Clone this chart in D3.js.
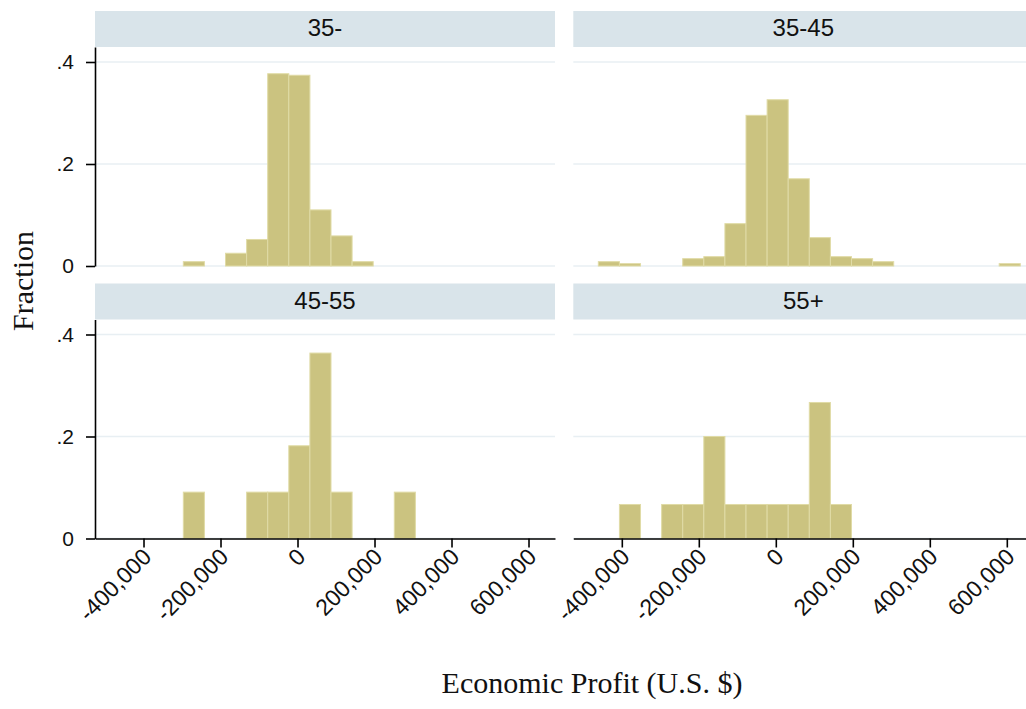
<!DOCTYPE html>
<html>
<head>
<meta charset="utf-8">
<script src="https://cdn.jsdelivr.net/npm/d3@7"></script>
<style>
  html, body { margin: 0; padding: 0; background: #fff; }
  svg { display: block; }
</style>
</head>
<body>
<svg id="chart" width="1026" height="709"></svg>
<script>
// Panel labels (age groups)
const panels = ["35-", "35-45", "45-55", "55+"];

// Histogram bin edges (U.S. $), shared by all panels
const binEdges = [-461000, -406200, -351400, -296600, -241800, -187000, -132200, -77400,
  -22600, 32200, 87000, 141800, 196600, 251400, 306200, 361000, 415800, 470600,
  525400, 580200, 635000];

// Fraction of observations in each bin, per panel
const frac35minus = [0, 0, 0, 0.0085, 0, 0.025, 0.052, 0.377, 0.374, 0.110,
  0.059, 0.0085, 0, 0, 0, 0, 0, 0, 0, 0];
const frac35to45 = [0.0085, 0.0046, 0, 0, 0.0144, 0.0183, 0.083, 0.2954, 0.326, 0.171,
  0.0556, 0.0183, 0.0144, 0.0085, 0, 0, 0, 0, 0, 0.0046];
const frac45to55 = [0, 0, 0, 0.0909, 0, 0, 0.0909, 0.0909, 0.1818, 0.3636,
  0.0909, 0, 0, 0.0909, 0, 0, 0, 0, 0, 0];
const frac55plus = [0, 0.0667, 0, 0.0667, 0.0667, 0.2, 0.0667, 0.0667, 0.0667, 0.0667,
  0.2667, 0.0667, 0, 0, 0, 0, 0, 0, 0, 0];
const panelValues = [frac35minus, frac35to45, frac45to55, frac55plus];

// Axis ticks
const xTickValues = [-400000, -200000, 0, 200000, 400000, 600000];
const xTickLabels = ["-400,000", "-200,000", "0", "200,000", "400,000", "600,000"];
const yTickValues = [0, 0.2, 0.4];
const yTickLabels = ["0", ".2", ".4"];

const xTitle = "Economic Profit (U.S. $)";
const yTitle = "Fraction";

// Layout
const colX = [95, 573.3];
const rowY = [47, 319.5];
const plotW = 460, plotH = 219;
const stripH = 36;

const x = d3.scaleLinear().domain([-526000, 668800]).range([0, plotW]);
const y = d3.scaleLinear().domain([0, 0.4294]).range([plotH, 0]);

const svg = d3.select("#chart");
const sans = "'Liberation Sans', Arial, sans-serif";
const serif = "'Liberation Serif', 'Times New Roman', serif";

panels.forEach((name, i) => {
  const col = i % 2, row = Math.floor(i / 2);
  const g = svg.append("g").attr("transform", `translate(${colX[col]},${rowY[row]})`);

  // header strip
  g.append("rect")
    .attr("x", 0).attr("y", -stripH)
    .attr("width", plotW).attr("height", stripH)
    .attr("fill", "#d9e4ea");
  g.append("text")
    .attr("x", plotW / 2).attr("y", -stripH / 2 - 1)
    .attr("text-anchor", "middle").attr("dy", "0.35em")
    .attr("font-family", sans).attr("font-size", 24).attr("fill", "#111")
    .text(name);

  // gridlines
  g.selectAll("line.grid").data(yTickValues).enter().append("line")
    .attr("class", "grid")
    .attr("x1", 0).attr("x2", plotW)
    .attr("y1", d => y(d)).attr("y2", d => y(d))
    .attr("stroke", "#e8eff3").attr("stroke-width", 1.5);

  // histogram bars
  const bins = panelValues[i].map((v, k) => ({ x0: binEdges[k], x1: binEdges[k + 1], v }))
    .filter(b => b.v > 0);
  g.selectAll("rect.bar").data(bins).enter().append("rect")
    .attr("class", "bar")
    .attr("x", d => x(d.x0))
    .attr("width", d => x(d.x1) - x(d.x0))
    .attr("y", d => y(d.v))
    .attr("height", d => y(0) - y(d.v))
    .attr("fill", "#cbc380")
    .attr("stroke", "#e0dba6").attr("stroke-width", 1);

  // y axis on left column
  if (col === 0) {
    const ya = g.append("g").call(
      d3.axisLeft(y).tickValues(yTickValues)
        .tickFormat((d, k) => yTickLabels[k])
        .tickSize(9).tickSizeOuter(0).tickPadding(12)
    );
    ya.select(".domain").attr("stroke", "#000").attr("stroke-width", 1.6);
    ya.selectAll(".tick line").attr("stroke", "#000").attr("stroke-width", 1.6);
    ya.selectAll(".tick text").attr("font-family", sans).attr("font-size", 21).attr("fill", "#111");
  }

  // x axis on bottom row
  if (row === 1) {
    const xa = g.append("g").attr("transform", `translate(0,${plotH})`).call(
      d3.axisBottom(x).tickValues(xTickValues)
        .tickFormat((d, k) => xTickLabels[k])
        .tickSize(9).tickSizeOuter(0)
    );
    xa.select(".domain").attr("stroke", "#000").attr("stroke-width", 1.6);
    xa.selectAll(".tick line").attr("stroke", "#000").attr("stroke-width", 1.6);
    xa.selectAll(".tick text")
      .attr("font-family", sans).attr("font-size", 23).attr("fill", "#111")
      .attr("text-anchor", "end")
      .attr("x", 0).attr("y", 0).attr("dy", "0.35em")
      .attr("transform", "translate(3,14) rotate(-45)");
  }
});

// axis titles
svg.append("text")
  .attr("transform", "translate(33,281) rotate(-90)")
  .attr("text-anchor", "middle")
  .attr("font-family", serif).attr("font-size", 30).attr("fill", "#111")
  .text(yTitle);

svg.append("text")
  .attr("x", 592).attr("y", 693)
  .attr("text-anchor", "middle")
  .attr("font-family", serif).attr("font-size", 30).attr("fill", "#111")
  .text(xTitle);
</script>
</body>
</html>
